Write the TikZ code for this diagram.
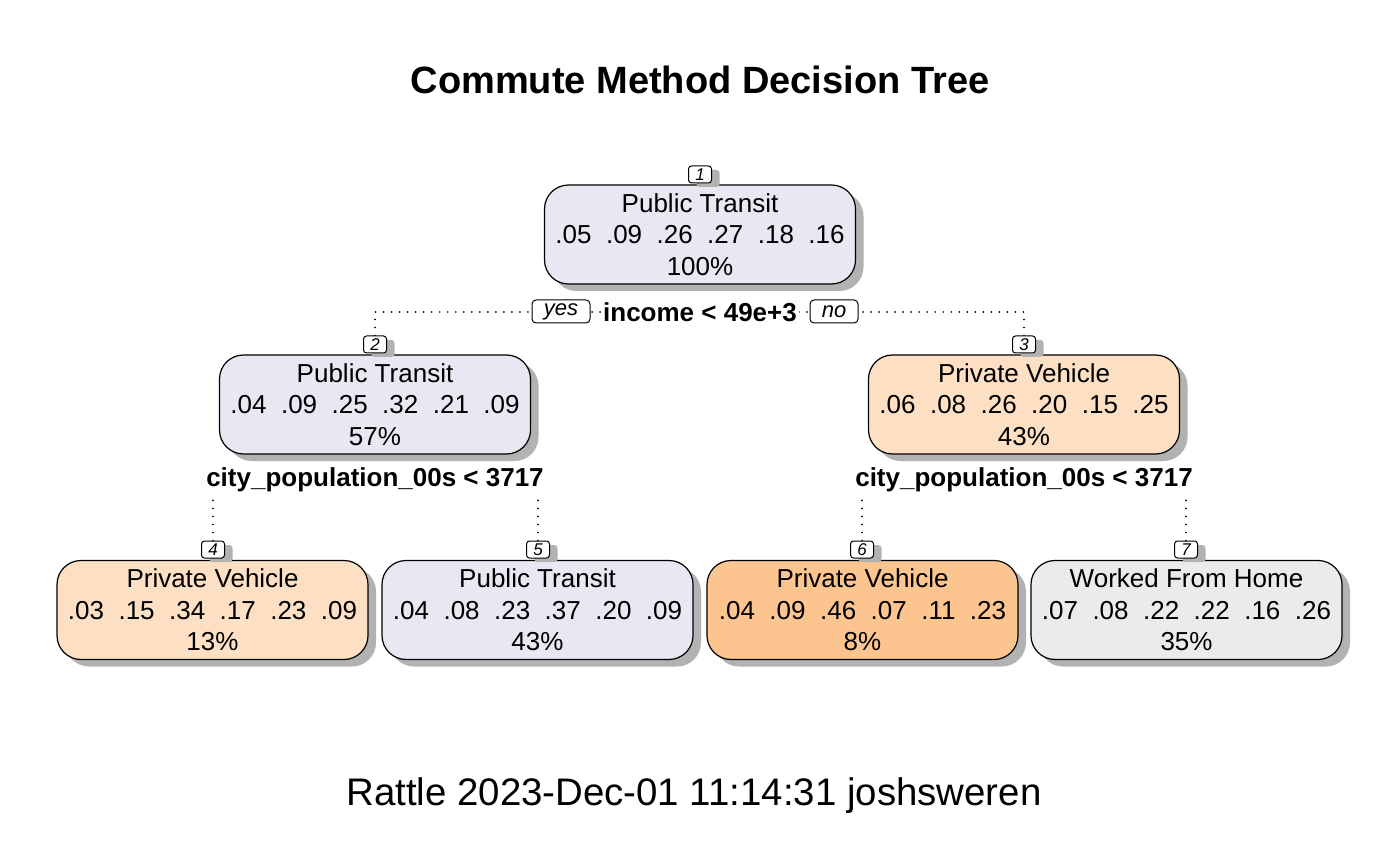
\documentclass[tikz,border=0pt]{standalone}
\usepackage{fontspec}
\setmainfont{Liberation Sans}
\usetikzlibrary{shadows,backgrounds}
\definecolor{ptcol}{HTML}{E9E7F1}
\definecolor{pvlight}{HTML}{FDE0C4}
\definecolor{pvdark}{HTML}{FCC590}
\definecolor{wfhcol}{HTML}{EBEBEB}
\newcommand\gp{\hspace{0.556em}}
\begin{document}
\begin{tikzpicture}[x=0.5pt,y=-0.5pt,
  leaf/.style={draw=black, line width=0.6pt, rounded corners=12pt,
    minimum width=155.5pt, minimum height=49.5pt, align=center, inner sep=0pt,
    font=\fontsize{13}{15.75}\selectfont,
    drop shadow={shadow xshift=4pt, shadow yshift=-3.5pt, fill=black!30, opacity=1}},
  nlab/.style={draw=black, line width=0.5pt, rounded corners=1.5pt, fill=white,
    minimum width=11.5pt, minimum height=8.5pt, inner sep=0pt,
    font=\fontsize{8.5}{9}\selectfont\itshape,
    drop shadow={shadow xshift=4pt, shadow yshift=-2pt, fill=black!30, opacity=1}},
  yn/.style={draw=black, line width=0.5pt, rounded corners=2pt, fill=white,
    minimum height=11.5pt, inner sep=0pt,
    font=\fontsize{11}{12}\selectfont\itshape},
  splitlab/.style={fill=white, inner sep=1pt, font=\fontsize{13}{15}\selectfont\bfseries},
  dotline/.style={line width=0.9pt, dash pattern=on 0.01pt off 4pt, line cap=round}
]
\useasboundingbox (0,0) rectangle (1400,865);

\node[font=\fontsize{19}{22}\selectfont\bfseries] (title) at (700,80) {Commute Method Decision Tree};
\node[font=\fontsize{19.2}{22}\selectfont] (footer) at (694,796) {Rattle 2023-Dec-01 11:14:31 joshsweren};

% nodes
\node[leaf, fill=ptcol] (n1) at (700,234.5) {Public Transit\\.05\gp.09\gp.26\gp.27\gp.18\gp.16\\100\%};
\node[leaf, fill=ptcol] (n2) at (375,404.5) {Public Transit\\.04\gp.09\gp.25\gp.32\gp.21\gp.09\\57\%};
\node[leaf, fill=pvlight] (n3) at (1024,404.5) {Private Vehicle\\.06\gp.08\gp.26\gp.20\gp.15\gp.25\\43\%};
\node[leaf, fill=pvlight] (n4) at (212.5,610) {Private Vehicle\\.03\gp.15\gp.34\gp.17\gp.23\gp.09\\13\%};
\node[leaf, fill=ptcol] (n5) at (537.5,610) {Public Transit\\.04\gp.08\gp.23\gp.37\gp.20\gp.09\\43\%};
\node[leaf, fill=pvdark] (n6) at (862.5,610) {Private Vehicle\\.04\gp.09\gp.46\gp.07\gp.11\gp.23\\8\%};
\node[leaf, fill=wfhcol] (n7) at (1186.5,610) {Worked From Home\\.07\gp.08\gp.22\gp.22\gp.16\gp.26\\35\%};

% node number labels
\node[nlab] (l1) at (700,174.5) {1};
\node[nlab] (l2) at (375,344.5) {2};
\node[nlab] (l3) at (1024,344.5) {3};
\node[nlab] (l4) at (213,549.5) {4};
\node[nlab] (l5) at (538,549.5) {5};
\node[nlab] (l6) at (862,549.5) {6};
\node[nlab] (l7) at (1186,549.5) {7};

% split labels
\node[splitlab] (s1) at (700,312) {income < 49e+3};
\node[yn, minimum width=29pt] (yes) at (561,311.5) {yes};
\node[yn, minimum width=24pt] (no) at (834,311.5) {no};
\node[splitlab] (s2) at (375,480) {city\_population\_00s < 3717};
\node[splitlab] (s3) at (1024,480) {city\_population\_00s < 3717};

\begin{scope}[on background layer]
\fill[white] (0,0) rectangle (1400,865);
\draw[dotline] (l2.north) |- (s1.center);
\draw[dotline] (l3.north) |- (s1.center);
\draw[dotline] (l4.north) |- (s2.center);
\draw[dotline] (l5.north) |- (s2.center);
\draw[dotline] (l6.north) |- (s3.center);
\draw[dotline] (l7.north) |- (s3.center);
\end{scope}
\end{tikzpicture}
\end{document}
